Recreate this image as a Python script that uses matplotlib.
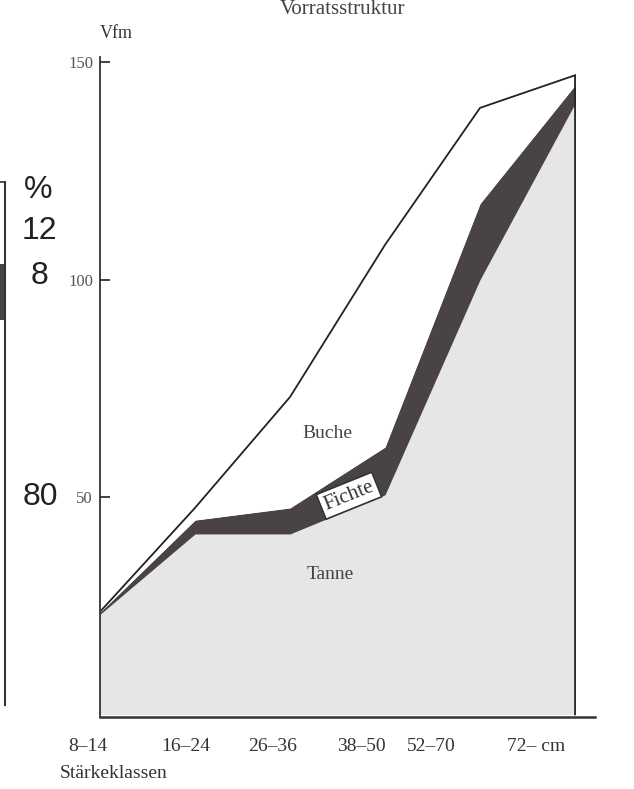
import matplotlib
matplotlib.use("Agg")
import matplotlib.pyplot as plt
import matplotlib.transforms as mtransforms
from matplotlib.lines import Line2D
from matplotlib.patches import Rectangle

# diameter classes (Stärkeklassen) and cumulative standing volume (Vfm)
klassen = ["8–14", "16–24", "26–36", "38–50", "52–70", "72– cm"]
x = [0, 1, 2, 3, 4, 5]
tanne = [23.0, 41.5, 41.5, 50.5, 100.0, 140.5]
fichte = [23.5, 44.7, 47.5, 61.5, 117.5, 144.7]
gesamt = [23.6, 47.5, 73.0, 108.0, 139.5, 147.0]   # Tanne + Fichte + Buche

yticks = [50, 100, 150]
label_pos = [-0.13, 0.9, 1.82, 2.75, 3.49, 4.59]

W, H = 634, 789
serif = ["Liberation Serif", "DejaVu Serif"]
sans = ["Liberation Sans", "DejaVu Sans"]


def fx(px):
    return px / W


def fy(py):
    return 1 - py / H


fig = plt.figure(figsize=(W / 100, H / 100), dpi=100)
ax = fig.add_axes([fx(100), fy(717), fx(595) - fx(100), fy(57) - fy(717)])

ax.fill_between(x, 0, tanne, color="#e7e6e7", lw=0)
ax.fill_between(x, tanne, fichte, color="#4a4344", lw=0)
ax.fill_between(x, fichte, gesamt, color="white", lw=0)
ax.plot(x + [x[-1]], gesamt + [0], color="#222222", lw=1.3, solid_joinstyle="miter")

for s in ["top", "right"]:
    ax.spines[s].set_visible(False)
ax.spines["left"].set_linewidth(1.3)
ax.spines["left"].set_color("#333333")
ax.spines["bottom"].set_linewidth(1.8)
ax.spines["bottom"].set_color("#333333")

ax.set_yticks(yticks)
ax.set_yticklabels([str(v) for v in yticks], family=serif, fontsize=12, color="#555555")
ax.tick_params(axis="y", direction="in", length=7, width=1.3, color="#333333", pad=5)
ax.set_xticks([])
ax.set_xlim(0, 5.21)
ax.set_ylim(-0.6, 151.2)

# class labels under the axis (shifted left of the class points as in the print)
trans = mtransforms.blended_transform_factory(ax.transData, ax.transAxes)
for lab, pos in zip(klassen, label_pos):
    ax.text(pos, -0.044, lab, transform=trans, family=serif, fontsize=14,
            color="#333333", ha="center", va="center", clip_on=False)

# area labels
ax.text(2.39, 64.7, "Buche", family=serif, fontsize=14, color="#444444",
        ha="center", va="center")
ax.text(2.42, 32.1, "Tanne", family=serif, fontsize=14, color="#444444",
        ha="center", va="center")
ax.text(2.62, 50.3, "Fichte", family=serif, fontsize=15, color="#333333",
        ha="center", va="center", rotation=22,
        bbox=dict(boxstyle="square,pad=0.18", fc="white", ec="#333333", lw=1.2))

# titles / axis captions
fig.text(fx(343), fy(0), "Vorratsstruktur", family=serif, fontsize=15,
         color="#444444", ha="center", va="top")
fig.text(fx(116), fy(33), "Vfm", family=serif, fontsize=13, color="#333333",
         ha="center", va="center")
fig.text(fx(114), fy(773), "Stärkeklassen", family=serif, fontsize=14,
         color="#333333", ha="center", va="center")

# remnants of the neighbouring figure on the left edge
fig.add_artist(Line2D([fx(5), fx(5)], [fy(182), fy(705)], color="#333333", lw=1.5))
fig.add_artist(Line2D([fx(0), fx(5)], [fy(182), fy(182)], color="#333333", lw=1.2))
fig.add_artist(Rectangle((fx(0), fy(320)), fx(6), fy(264) - fy(320),
                         color="#444444", lw=0))
for txt, px, py in [("%", 38, 190), ("12", 39, 231), ("8", 39, 276), ("80", 40, 497)]:
    fig.text(fx(px), fy(py), txt, family=sans, fontsize=23, color="#222222",
             ha="center", va="center")

fig.savefig("out.png", dpi=100)
